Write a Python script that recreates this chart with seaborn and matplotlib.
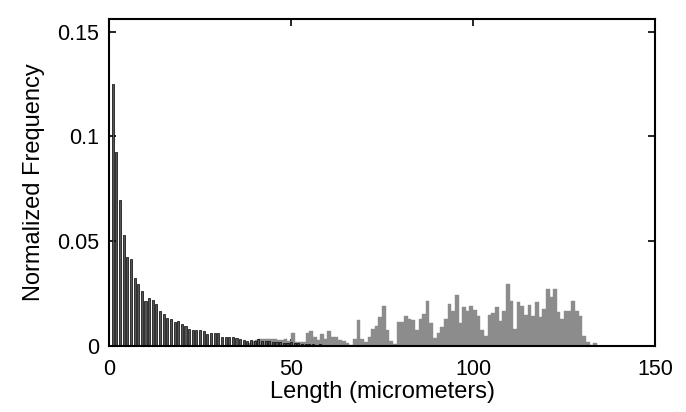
import numpy as np
import pandas as pd
import matplotlib
matplotlib.use('Agg')
import matplotlib.pyplot as plt
import seaborn as sns

# short lengths (black bars, bins centred on whole micrometers)
black_len = list(range(1, 76))
black_freq = [
    0.1250, 0.0926, 0.0699, 0.0530, 0.0425, 0.0413, 0.0325, 0.0296, 0.0261, 0.0213,
    0.0229, 0.0218, 0.0202, 0.0165, 0.0154, 0.0133, 0.0128, 0.0114, 0.0120, 0.0106,
    0.0096, 0.0080, 0.0075, 0.0075, 0.0075, 0.0072, 0.0058, 0.0061, 0.0061, 0.0061,
    0.0042, 0.0045, 0.0045, 0.0043, 0.0037, 0.0034, 0.0029, 0.0026, 0.0029, 0.0024,
    0.0034, 0.0024, 0.0024, 0.0024, 0.0021, 0.0021, 0.0021, 0.0016, 0.0013, 0.0019,
    0.0013, 0.0013, 0.0008, 0.0010, 0.0008, 0.0008, 0.0006, 0.0008, 0.0005, 0.0006,
    0.0005, 0.0006, 0.0004, 0.0005, 0.0004, 0.0005, 0.0004, 0.0003, 0.0004, 0.0003,
    0.0004, 0.0003, 0.0003, 0.0002, 0.0003,
]

# long lengths (gray bars, left bin edges)
gray_len = list(range(38, 134))
gray_freq = [
    0.0015, 0.0025, 0.0030, 0.0033, 0.0035, 0.0033, 0.0035, 0.0035, 0.0030, 0.0030,
    0.0032, 0.0025, 0.0064, 0.0018, 0.0018, 0.0021, 0.0060, 0.0072, 0.0045, 0.0030,
    0.0057, 0.0035, 0.0071, 0.0043, 0.0045, 0.0027, 0.0024, 0.0013, 0.0005, 0.0032,
    0.0125, 0.0035, 0.0021, 0.0041, 0.0080, 0.0098, 0.0141, 0.0193, 0.0078, 0.0025,
    0.0010, 0.0115, 0.0113, 0.0145, 0.0129, 0.0124, 0.0079, 0.0131, 0.0154, 0.0216,
    0.0110, 0.0037, 0.0061, 0.0090, 0.0129, 0.0202, 0.0167, 0.0244, 0.0112, 0.0184,
    0.0167, 0.0193, 0.0172, 0.0144, 0.0075, 0.0048, 0.0146, 0.0160, 0.0185, 0.0121,
    0.0165, 0.0295, 0.0217, 0.0083, 0.0209, 0.0190, 0.0149, 0.0197, 0.0143, 0.0210,
    0.0140, 0.0177, 0.0273, 0.0235, 0.0273, 0.0162, 0.0127, 0.0165, 0.0165, 0.0213,
    0.0165, 0.0144, 0.0048, 0.0021, 0.0006, 0.0016,
]

x_ticks = [0, 50, 100, 150]
y_ticks = [0, 0.05, 0.1, 0.15]
y_tick_labels = ['0', '0.05', '0.1', '0.15']

sns.set_style('ticks')
plt.rcParams['font.family'] = ['Liberation Sans', 'DejaVu Sans']
plt.rcParams.update({'text.color': 'black', 'axes.labelcolor': 'black',
                     'xtick.color': 'black', 'ytick.color': 'black'})

black_df = pd.DataFrame({'length': black_len, 'freq': black_freq})
gray_df = pd.DataFrame({'length': np.array(gray_len) + 0.5, 'freq': gray_freq})

fig = plt.figure(figsize=(6.86, 4.12), dpi=100)
ax = fig.add_axes([0.159, 0.160, 0.796, 0.794])

# gray histogram behind, black one on top
sns.histplot(data=gray_df, x='length', weights='freq',
             binwidth=1, binrange=(gray_len[0], gray_len[-1] + 1),
             color='#8c8c8c', edgecolor='#8c8c8c', linewidth=0.3,
             alpha=1, ax=ax)
sns.histplot(data=black_df, x='length', weights='freq', discrete=True,
             shrink=0.58, color='#555555', edgecolor='black', linewidth=0.5,
             alpha=1, ax=ax)

ax.set_xlim(0, 150)
ax.set_ylim(0, 0.156)
ax.set_xticks(x_ticks)
ax.set_xticklabels([str(t) for t in x_ticks])
ax.set_yticks(y_ticks)
ax.set_yticklabels(y_tick_labels)
ax.set_xlabel('Length (micrometers)', fontsize=17, labelpad=1)
ax.set_ylabel('Normalized Frequency', fontsize=17, labelpad=9)
ax.tick_params(direction='in', top=True, right=True, length=5, width=1.2,
               labelsize=15.5)
ax.tick_params(axis='x', pad=9)
ax.tick_params(axis='y', pad=7)
for s in ax.spines.values():
    s.set_linewidth(1.5)
    s.set_color('black')

plt.savefig('out.png', dpi=100)
plt.close()
